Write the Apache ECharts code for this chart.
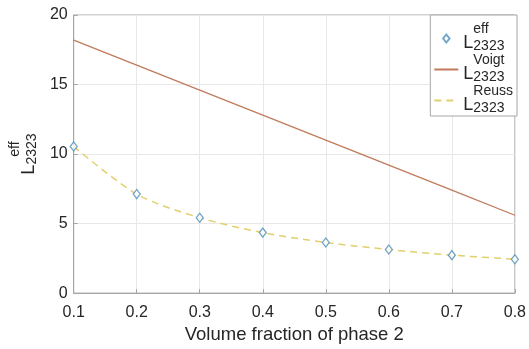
<!DOCTYPE html>
<html>
<head>
<meta charset="utf-8">
<script src="https://cdn.jsdelivr.net/npm/echarts@6/dist/echarts.min.js"></script>
<style>
  html, body { margin: 0; padding: 0; background: #fff; }
  #main { width: 529px; height: 349px; }
</style>
</head>
<body>
<div id="main"></div>
<script>
// data
var fractions = [0.1, 0.2, 0.3, 0.4, 0.5, 0.6, 0.7, 0.8];
var effValues = [10.55, 7.12, 5.42, 4.35, 3.64, 3.13, 2.73, 2.44];
var voigtValues = [18.2, 16.4, 14.6, 12.8, 11.0, 9.2, 7.4, 5.6];
var reussValues = [10.55, 7.12, 5.42, 4.35, 3.64, 3.13, 2.73, 2.44];
var seriesNames = ['eff', 'Voigt', 'Reuss'];

var chartDom = document.getElementById('main');
var myChart = echarts.init(chartDom);

function pairs(vals) {
    return fractions.map(function (f, i) { return [f, vals[i]]; });
}

// L with a superscript over a subscript, like the matlab label
function stacked(sup) {
    return '{sp|}{sup|' + sup + '}\n{L|L}{sub|2323}';
}

var font = 'Liberation Sans, Arial, sans-serif';
var ink = '#262626';
var labelRich = {
    sp: { width: 10, fontSize: 14, lineHeight: 10, fontFamily: font, color: ink },
    sup: { fontSize: 14, lineHeight: 10, fontFamily: font, color: ink },
    L: { fontSize: 18, lineHeight: 11, verticalAlign: 'top', fontFamily: font, color: ink },
    sub: { fontSize: 14, lineHeight: 19, verticalAlign: 'bottom', fontFamily: font, color: ink }
};

var blue = '#4f8fb8', brown = '#c07a5c', yellow = '#e2cf6e';
var hidden = { color: 'rgba(0,0,0,0)', borderWidth: 0 };

var option = {
    animation: false,
    backgroundColor: '#fff',
    grid: {
        left: 73,
        right: 13,
        top: 15,
        bottom: 54,
        show: true,
        borderColor: '#a6a6a6',
        borderWidth: 1
    },
    legend: {
        data: [
            { name: 'eff', icon: 'path://M4,0 L8,5 L4,10 L0,5 Z' },
            { name: 'Voigt', itemStyle: hidden },
            { name: 'Reuss', itemStyle: hidden }
        ],
        orient: 'vertical',
        right: 12,
        top: 15,
        backgroundColor: '#fff',
        borderColor: '#a6a6a6',
        borderWidth: 1,
        padding: [7, 4, 1, 3],
        itemGap: 0,
        itemWidth: 24,
        itemHeight: 8,
        formatter: stacked,
        textStyle: { rich: labelRich }
    },
    xAxis: {
        type: 'value',
        min: 0.1,
        max: 0.8,
        interval: 0.1,
        name: 'Volume fraction of phase 2',
        nameLocation: 'middle',
        nameGap: 29,
        nameTextStyle: { fontSize: 18.5, fontFamily: font, color: ink },
        axisLine: { lineStyle: { color: '#a6a6a6' } },
        axisTick: { inside: true, length: 4, lineStyle: { color: '#a6a6a6' } },
        axisLabel: {
            fontSize: 16, fontFamily: font, color: ink, margin: 11,
            formatter: function (v) { return v.toFixed(1); }
        },
        splitLine: { lineStyle: { color: '#e8e8e8' } }
    },
    yAxis: {
        type: 'value',
        min: 0,
        max: 20,
        interval: 5,
        name: stacked('eff'),
        nameLocation: 'middle',
        nameRotate: 90,
        nameGap: 25,
        nameTextStyle: { rich: labelRich },
        axisLine: { lineStyle: { color: '#a6a6a6' } },
        axisTick: { inside: true, length: 4, lineStyle: { color: '#a6a6a6' } },
        axisLabel: { fontSize: 16, fontFamily: font, color: ink, margin: 6 },
        splitLine: { lineStyle: { color: '#e8e8e8' } }
    },
    series: [
        {
            name: 'eff',
            type: 'scatter',
            symbol: 'diamond',
            symbolSize: [7, 9],
            itemStyle: { color: '#fff', borderColor: blue, borderWidth: 1.3 },
            data: pairs(effValues),
            z: 5
        },
        {
            name: 'Voigt',
            type: 'line',
            showSymbol: false,
            symbol: 'none',
            lineStyle: { color: brown, width: 1.3 },
            itemStyle: { color: brown },
            data: pairs(voigtValues)
        },
        {
            name: 'Reuss',
            type: 'line',
            smooth: 0.3,
            showSymbol: false,
            symbol: 'none',
            lineStyle: { color: yellow, width: 1.5, type: [7, 5] },
            itemStyle: { color: yellow },
            data: pairs(reussValues)
        }
    ]
};

myChart.setOption(option);
</script>
</body>
</html>
